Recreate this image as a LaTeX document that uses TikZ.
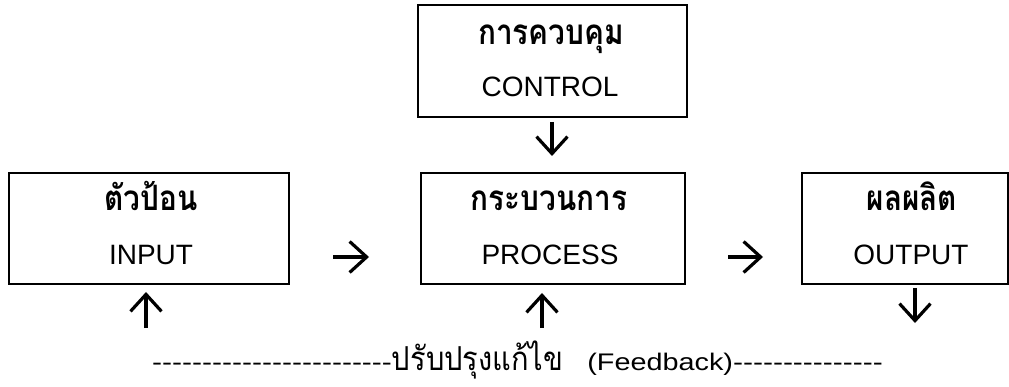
\documentclass[tikz,border=0pt]{standalone}
\usepackage{fontspec}
\setmainfont{Liberation Sans}
\newfontfamily\thaifont[Script=Thai,FakeStretch=0.85]{Loma}
\newfontfamily\thaifbfont[Script=Thai,FakeStretch=0.88]{Loma}
\newfontfamily\fbfont[FakeStretch=1.2,Ligatures=TeXOff]{Liberation Sans}
\newfontfamily\fbdash[FakeStretch=1.25,Ligatures=TeXOff]{Liberation Sans}
\usetikzlibrary{arrows.meta}
\tikzset{
  boxnode/.style={draw, line width=2pt, inner sep=0pt, rectangle},
  thaitext/.style={anchor=base, inner sep=0pt, font=\thaifont\bfseries\fontsize{35}{40}\selectfont},
  entext/.style={anchor=base, inner sep=0pt, font=\fontsize{28}{34}\selectfont},
  fbtext/.style={anchor=base west, inner sep=0pt},
  arr/.style={line width=3.2pt, -{Straight Barb[length=17pt,width=31pt]}},
}
\begin{document}
\begin{tikzpicture}[x=1pt,y=-1pt]
\useasboundingbox (0,0) rectangle (1009,387);
% boxes
\node[boxnode, minimum width=280pt, minimum height=111pt] (in) at (149,228.5) {};
\node[boxnode, minimum width=269pt, minimum height=112pt] (ctl) at (552.5,61) {};
\node[boxnode, minimum width=264pt, minimum height=111pt] (proc) at (553,228.5) {};
\node[boxnode, minimum width=206pt, minimum height=111pt] (out) at (905,228.5) {};
% texts
\node[thaitext] (inTh) at (151,211) {ตัวป้อน};
\node[entext] (inEn) at (151,265) {INPUT};
\node[thaitext] (ctlTh) at (551,45) {การควบคุม};
\node[entext] (ctlEn) at (550,97) {CONTROL};
\node[thaitext] (procTh) at (549,211) {กระบวนการ};
\node[entext] (procEn) at (550,265) {PROCESS};
\node[thaitext] (outTh) at (912,211) {ผลผลิต};
\node[entext] (outEn) at (911,265) {OUTPUT};
% arrows
\coordinate (a1s) at (333,257); \coordinate (a1e) at (369,257);
\coordinate (a2s) at (728,257); \coordinate (a2e) at (763,257);
\coordinate (dcs) at (552,122); \coordinate (dce) at (552,156);
\coordinate (dos) at (915,288); \coordinate (doe) at (915,323);
\coordinate (uis) at (146,328); \coordinate (uie) at (146,292);
\coordinate (ups) at (542,328); \coordinate (upe) at (542,293);
\draw[arr] (a1s) -- (a1e);
\draw[arr] (a2s) -- (a2e);
\draw[arr] (dcs) -- (dce);
\draw[arr] (dos) -- (doe);
\draw[arr] (uis) -- (uie);
\draw[arr] (ups) -- (upe);
% feedback line
\node[fbtext] (fb) at (152,370) {\fontsize{24}{28}\selectfont{\fbdash ------------------------}{\thaifbfont\fontsize{33}{38}\selectfont ปรับปรุงแก้ไข}\hspace{24pt}{\fbfont (Feedback)}{\fbdash ---------------}};
\end{tikzpicture}
\end{document}
